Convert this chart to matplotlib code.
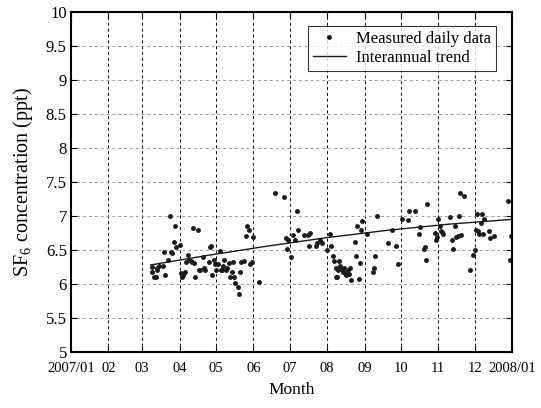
import numpy as np
import pandas as pd
import matplotlib
matplotlib.use("Agg")
import matplotlib.pyplot as plt

plt.rcParams['font.family'] = ['Liberation Serif', 'DejaVu Serif']
plt.rcParams['mathtext.fontset'] = 'custom'
plt.rcParams['mathtext.rm'] = 'Liberation Serif'

# day of year 2007 (0 = Jan 1) and SF6 (ppt)
obs_day = [67, 67, 69, 70, 71, 71, 73, 76, 77, 78, 80, 82, 83, 84, 85, 86, 87, 90, 91, 92,
           93, 94, 95, 97, 98, 99, 100, 101, 102, 105, 103, 106, 107, 109, 110, 111, 114, 115, 116, 117,
           118, 119, 120, 122, 123, 124, 125, 126, 127, 128, 129, 131, 132, 133, 134, 135, 136, 138, 139, 140,
           141, 143, 145, 146, 147, 148, 150, 151, 156,
           169, 176, 187, 178, 179, 180, 182, 184, 185, 188, 193, 196, 198, 197, 203, 204, 206, 208, 212, 214,
           215, 217, 218, 219, 220, 219, 221, 222, 223, 224, 225, 226, 227, 228, 229, 230, 231, 232, 235, 236,
           237, 238, 239, 240, 241, 245, 250, 251, 252, 253, 262,
           269, 271, 266, 274, 279, 280, 285, 288, 289, 292, 293, 294, 295, 301, 302, 303, 304, 305, 306, 307,
           308, 314, 315, 316, 318, 319, 321, 320, 322, 323, 325, 330, 333, 334, 336, 335, 337, 338, 339, 340,
           341, 342, 346, 347, 350, 362, 364, 363]
obs_val = [6.25, 6.18, 6.10, 6.11, 6.20, 6.24, 6.26, 6.26, 6.47, 6.13, 6.35, 7.00, 6.47, 6.45, 6.62, 6.85, 6.55, 6.57, 6.16, 6.11,
           6.13, 6.18, 6.33, 6.42, 6.35, 6.34, 6.33, 6.83, 6.31, 6.80, 6.11, 6.20, 6.20, 6.39, 6.24, 6.21, 6.33, 6.55, 6.56, 6.13,
           6.36, 6.30, 6.20, 6.30, 6.48, 6.20, 6.21, 6.26, 6.35, 6.20, 6.24, 6.31, 6.11, 6.17, 6.33, 6.11, 6.02, 5.96, 5.85, 6.18,
           6.33, 6.34, 6.70, 6.85, 6.80, 6.30, 6.33, 6.69, 6.03,
           7.34, 7.28, 7.08, 6.67, 6.52, 6.64, 6.40, 6.72, 6.64, 6.80, 6.72, 6.72, 6.75, 6.56, 6.56, 6.60, 6.65, 6.60, 6.50, 6.74,
           6.56, 6.41, 6.34, 6.11, 6.10, 6.23, 6.20, 6.34, 6.26, 6.21, 6.18, 6.24, 6.16, 6.13, 6.20, 6.15, 6.23, 6.06, 6.62, 6.41,
           6.85, 6.07, 6.31, 6.79, 6.93, 6.74, 6.18, 6.24, 6.41, 7.00, 6.60,
           6.56, 6.29, 6.79, 6.95, 6.94, 7.08, 7.07, 6.73, 6.84, 6.52, 6.55, 6.35, 7.17, 6.75, 6.64, 6.69, 6.96, 6.86, 6.78, 6.77,
           6.74, 6.99, 6.64, 6.51, 6.85, 6.69, 7.00, 6.70, 7.34, 6.72, 7.30, 6.20, 6.42, 6.50, 7.03, 6.80, 6.78, 6.74, 6.89, 7.03,
           6.73, 6.95, 6.78, 6.68, 6.70, 7.22, 6.70, 6.35]

trend_day = [66, 113, 160, 211, 262, 313, 365]
trend_val = [6.28, 6.42, 6.55, 6.68, 6.79, 6.88, 6.95]

month_labels = ['2007/01', '02', '03', '04', '05', '06', '07', '08', '09', '10', '11', '12', '2008/01']
month_start = pd.date_range('2007-01-01', '2008-01-01', freq='MS')
month_day = [(d - month_start[0]).days for d in month_start]

fig = plt.figure(figsize=(5.41, 4.08), dpi=100)
ax = fig.add_axes([0.1312, 0.1373, 0.8152, 0.8333])

ax.plot(obs_day, obs_val, '.', color='#1a1a1a', markersize=5, label='Measured daily data')
ax.plot(trend_day, trend_val, '-', color='#1a1a1a', linewidth=1.0, label='Interannual trend')

ax.set_xlim(0, 365)
ax.set_ylim(5, 10)
ax.set_xticks(month_day)
ax.set_xticklabels(month_labels)
ax.set_yticks(np.arange(5, 10.01, 0.5))
ax.set_yticklabels(['5', '5.5', '6', '6.5', '7', '7.5', '8', '8.5', '9', '9.5', '10'])
ax.tick_params(direction='in', top=True, right=True, length=4, width=0.8)
ax.tick_params(axis='x', labelsize=10.5, pad=7)
ax.tick_params(axis='y', labelsize=12, pad=3)

ax.xaxis.grid(True, linestyle=(0, (3, 3)), color='black', linewidth=0.7)
ax.yaxis.grid(True, linestyle=(0, (3, 3)), color='#999999', linewidth=0.7)
for s in ax.spines.values():
    s.set_linewidth(1.5)

ax.set_xlabel('Month', fontsize=12.5, labelpad=5)
ax.set_ylabel('SF$_6$ concentration (ppt)', fontsize=14.5, labelpad=8)

leg = ax.legend(loc='upper right', bbox_to_anchor=(0.964, 0.959), fontsize=12, frameon=True,
                fancybox=False, edgecolor='black', borderpad=0.3, labelspacing=0.2,
                handlelength=2.0, handletextpad=0.6, borderaxespad=0)
leg.get_frame().set_linewidth(0.8)

fig.savefig('out.png', dpi=100)
